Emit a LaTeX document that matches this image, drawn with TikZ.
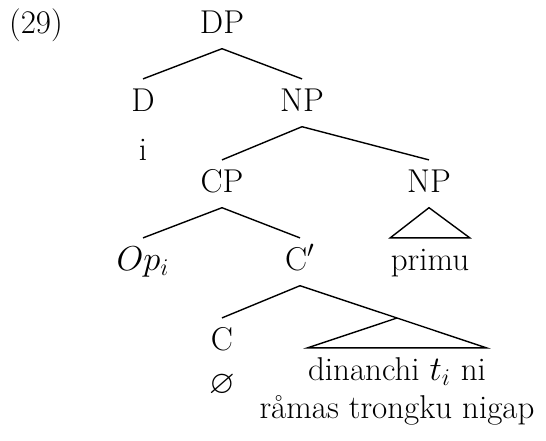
\documentclass[tikz,border=0pt]{standalone}
\usepackage{amssymb}

\begin{document}
\begin{tikzpicture}[x=0.5pt, y=-0.5pt, line width=0.7pt]
                \tikzset{TreeLabel/.style={inner xsep=0pt, inner ysep=4.5pt, text height=11.2pt, text depth=3pt, anchor=base, font=\fontsize{16.5}{19.8}\selectfont}}
                \useasboundingbox (0,0) rectangle (546,440);
                \node[TreeLabel] (ex) at (36,33) {(29)};
                \node[TreeLabel] (dp) at (222,33) {DP};
                \node[TreeLabel] (d) at (143,111) {D};
                \node[TreeLabel] (np) at (302,111) {NP};
                \node[TreeLabel] (i) at (143,160) {i};
                \node[TreeLabel] (cp) at (222,192) {CP};
                \node[TreeLabel] (npb) at (429,192) {NP};
                \node[TreeLabel] (op) at (143,270) {$Op_i$};
                \node[TreeLabel] (cbar) at (300,270) {C$'$};
                \node[TreeLabel] (primu) at (430,270) {primu};
                \node[TreeLabel] (c) at (222,350) {C};
                \node[TreeLabel] (empty) at (222,393) {$\varnothing$};
                \node[TreeLabel] (ti) at (397,380) {dinanchi $t_i$ ni};
                \node[TreeLabel] (ramas) at (397,418) {råmas trongku nigap};
                \coordinate (roof) at (397,318);
                \draw (dp.south) -- (d.north);
                \draw (dp.south) -- (np.north);
                \draw (np.south) -- (cp.north);
                \draw (np.south) -- (npb.north);
                \draw (cp.south) -- (op.north);
                \draw (cp.south) -- (cbar.north);
                \draw (npb.south) -- (primu.north west) -- (primu.north east) -- cycle;
                \draw (cbar.south) -- (c.north);
                \draw (cbar.south) -- (roof);
                \draw (roof) -- (ti.north west) -- (ti.north east) -- cycle;
            \end{tikzpicture}
\end{document}
